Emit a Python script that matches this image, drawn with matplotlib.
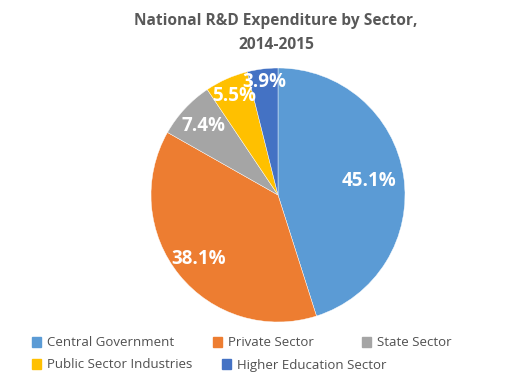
import matplotlib
matplotlib.use("Agg")
import matplotlib.pyplot as plt
import numpy as np

categories = ["Central Government", "Private Sector", "State Sector",
              "Public Sector Industries", "Higher Education Sector"]
values = [45.1, 38.1, 7.4, 5.5, 3.9]
colors = ["#5B9BD5", "#ED7D31", "#A5A5A5", "#FFC000", "#4472C4"]
label_dist = [0.725, 0.80, 0.80, 0.85, 0.90]

plt.rcParams['font.family'] = ['Open Sans', 'DejaVu Sans']

fig = plt.figure(figsize=(5.09, 3.74), dpi=100)
fig.patch.set_facecolor("white")

W, H = 509, 374
cx, cy, r = 278, 195, 127
ax = fig.add_axes([(cx - r) / W, (H - cy - r) / H, 2 * r / W, 2 * r / H])
wedges, _ = ax.pie(values, colors=colors, startangle=90, counterclock=False,
                   wedgeprops=dict(edgecolor="white", linewidth=0.3))
ax.set_xlim(-1, 1)
ax.set_ylim(-1, 1)
ax.set_aspect("equal")

for w, v, d in zip(wedges, values, label_dist):
    ang = np.deg2rad((w.theta1 + w.theta2) / 2)
    ax.text(d * np.cos(ang), d * np.sin(ang), f"{v}%", ha="center", va="center",
            color="white", fontsize=13.5, fontweight="bold")

fig.text(276 / W, 1 - 21 / H, "National R&D Expenditure by Sector,", ha="center", va="center",
         fontsize=11.2, fontweight="bold", color="#595959")
fig.text(276 / W, 1 - 45 / H, "2014-2015", ha="center", va="center",
         fontsize=11.2, fontweight="bold", color="#595959")

# legend entries laid out like the reference (row-wise, uneven spacing)
leg_pos = [(32, 343), (213, 343), (362, 343), (32, 365), (222, 365)]
for cat, col, (lx, ly) in zip(categories, colors, leg_pos):
    leg = fig.legend([plt.Rectangle((0, 0), 1, 1, color=col)], [cat],
                     loc="center left", bbox_to_anchor=(lx / W, 1 - ly / H),
                     frameon=False, fontsize=9.5, handlelength=0.7,
                     handleheight=0.7, handletextpad=0.4,
                     borderpad=0, borderaxespad=0)
    for t in leg.get_texts():
        t.set_color("#505050")

fig.savefig("out.png", dpi=100, facecolor="white")
